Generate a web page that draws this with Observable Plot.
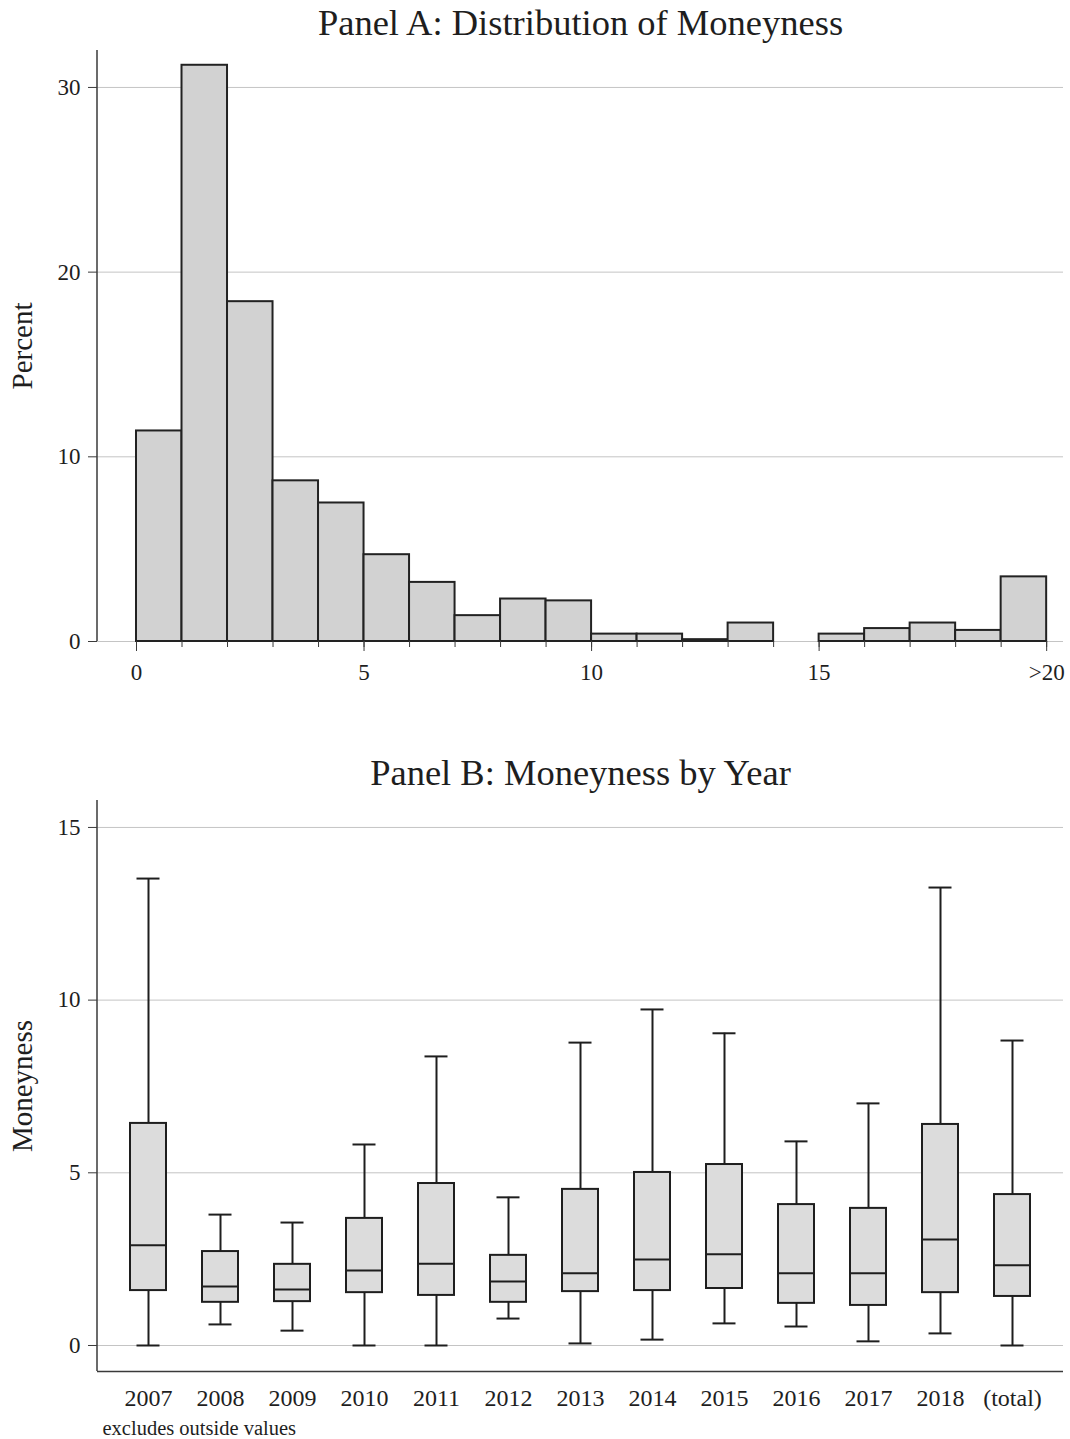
<!DOCTYPE html>
<html><head><meta charset="utf-8">
<script src="https://cdn.jsdelivr.net/npm/d3@7"></script>
<script src="https://cdn.jsdelivr.net/npm/@observablehq/plot@0.6"></script>
<style>
body{margin:0;background:#fff;}
#wrap{width:1070px;height:1439px;position:relative;background:#fff;overflow:hidden}
#wrap svg{display:block}
</style></head><body><div id="wrap"></div>
<script>
// ---------- Panel A data ----------
const binLow  = [0,1,2,3,4,5,6,7,8,9,10,11,12,13,14,15,16,17,18,19];
const binHigh = [1,2,3,4,5,6,7,8,9,10,11,12,13,14,15,16,17,18,19,20];
const percent = [11.4,31.2,18.4,8.7,7.5,4.7,3.2,1.4,2.3,2.2,0.4,0.4,0.1,1.0,0,0.4,0.7,1.0,0.6,3.5];
const xTickValuesA = [0,5,10,15,20];
const xTickLabelsA = ["0","5","10","15",">20"];
const xMinorTicksA = [0,1,2,3,4,5,6,7,8,9,10,11,12,13,14,15,16,17,18,19,20];
const yTicksA = [0,10,20,30];

// ---------- Panel B data ----------
const years       = ["2007","2008","2009","2010","2011","2012","2013","2014","2015","2016","2017","2018","(total)"];
const whiskerLow  = [0.00,0.61,0.43,0.00,0.00,0.78,0.06,0.17,0.64,0.55,0.12,0.35,0.00];
const quartile1   = [1.59,1.25,1.27,1.53,1.45,1.25,1.56,1.59,1.65,1.22,1.16,1.53,1.42];
const medianVal   = [2.90,1.71,1.62,2.17,2.37,1.85,2.09,2.49,2.64,2.09,2.09,3.07,2.32];
const quartile3   = [6.43,2.72,2.35,3.68,4.69,2.61,4.52,5.01,5.24,4.08,3.97,6.40,4.37];
const whiskerHigh = [13.52,3.79,3.56,5.82,8.37,4.29,8.77,9.73,9.04,5.91,7.01,13.26,8.83];
const yTicksB = [0,5,10,15];

const FONT = "'Liberation Serif','Times New Roman','DejaVu Serif',serif";
const INK = "#1e1e1e";
const GRID = "#c4c4c4";

const histData = binLow.map((lo, i) => ({lo, hi: binHigh[i], pct: percent[i]})).filter(d => d.pct > 0);
const boxData = years.map((year, i) => ({
  year, lo: whiskerLow[i], q1: quartile1[i], med: medianVal[i], q3: quartile3[i], hi: whiskerHigh[i]
}));

function leftAxisLine(index, scales, values, dims) {
  return d3.create("svg:line")
    .attr("x1", dims.marginLeft).attr("x2", dims.marginLeft)
    .attr("y1", dims.marginTop).attr("y2", dims.height - dims.marginBottom)
    .attr("stroke", "#3a3a3a").attr("stroke-width", 1.5).node();
}

const chartA = Plot.plot({
  width: 1070, height: 696,
  marginLeft: 97, marginRight: 7, marginTop: 50, marginBottom: 55,
  style: {fontFamily: FONT, background: "white", color: INK},
  x: {domain: [-0.857, 20.37]},
  y: {domain: [0, 32]},
  marks: [
    Plot.gridY(yTicksA, {stroke: GRID, strokeOpacity: 1, strokeWidth: 1}),
    Plot.rectY(histData, {x1: "lo", x2: "hi", y1: 0, y2: "pct", fill: "#d2d2d2", stroke: "#222", strokeWidth: 2}),
    Plot.axisY(yTicksA, {tickSize: 9, tickPadding: 8, fontSize: 23, label: null, stroke: "#3a3a3a"}),
    Plot.axisX(xMinorTicksA, {tickSize: 6, tickFormat: () => "", label: null, stroke: "#3a3a3a"}),
    Plot.axisX(xTickValuesA, {tickSize: 10, tickPadding: 12, fontSize: 23, label: null, stroke: "#3a3a3a",
      tickFormat: (d) => xTickLabelsA[xTickValuesA.indexOf(d)]}),
    leftAxisLine,
    Plot.text(["Percent"], {frameAnchor: "left", textAnchor: "middle", lineAnchor: "middle", rotate: -90, dx: -75, fontSize: 29, fill: INK}),
    Plot.text(["Panel A: Distribution of Moneyness"], {frameAnchor: "top", lineAnchor: "middle", dy: -27, fontSize: 36.5, fill: INK})
  ]
});

const chartB = Plot.plot({
  width: 1070, height: 743,
  marginLeft: 97, marginRight: 7, marginTop: 104, marginBottom: 68,
  style: {fontFamily: FONT, background: "white", color: INK},
  x: {type: "band", domain: years, paddingInner: 0.5, paddingOuter: 0.458},
  y: {domain: [-0.753, 15.78]},
  marks: [
    Plot.gridY(yTicksB, {stroke: GRID, strokeOpacity: 1, strokeWidth: 1}),
    Plot.ruleX(boxData, {x: "year", y1: "lo", y2: "hi", stroke: INK, strokeWidth: 2}),
    Plot.barY(boxData, {x: "year", y1: "q1", y2: "q3", fill: "#dcdcdc", stroke: INK, strokeWidth: 2}),
    Plot.tickY(boxData, {x: "year", y: "med", stroke: INK, strokeWidth: 2}),
    Plot.tickY(boxData, {x: "year", y: "lo", stroke: INK, strokeWidth: 2, insetLeft: 6.5, insetRight: 6.5}),
    Plot.tickY(boxData, {x: "year", y: "hi", stroke: INK, strokeWidth: 2, insetLeft: 6.5, insetRight: 6.5}),
    Plot.axisY(yTicksB, {tickSize: 9, tickPadding: 8, fontSize: 23, label: null, stroke: "#3a3a3a"}),
    Plot.axisX({tickSize: 0, tickPadding: 17, fontSize: 24, label: null}),
    Plot.ruleY([-0.753], {stroke: "#3a3a3a", strokeWidth: 1.5}),
    leftAxisLine,
    Plot.text(["Moneyness"], {frameAnchor: "left", textAnchor: "middle", lineAnchor: "middle", rotate: -90, dx: -75, fontSize: 29, fill: INK}),
    Plot.text(["Panel B: Moneyness by Year"], {frameAnchor: "top", lineAnchor: "middle", dy: -27, fontSize: 36.5, fill: INK}),
    Plot.text(["excludes outside values"], {frameAnchor: "bottom-left", textAnchor: "start", lineAnchor: "middle", dx: 5, dy: 57, fontSize: 20.5, fill: INK})
  ]
});

document.getElementById("wrap").append(chartA, chartB);
</script>
</body></html>
